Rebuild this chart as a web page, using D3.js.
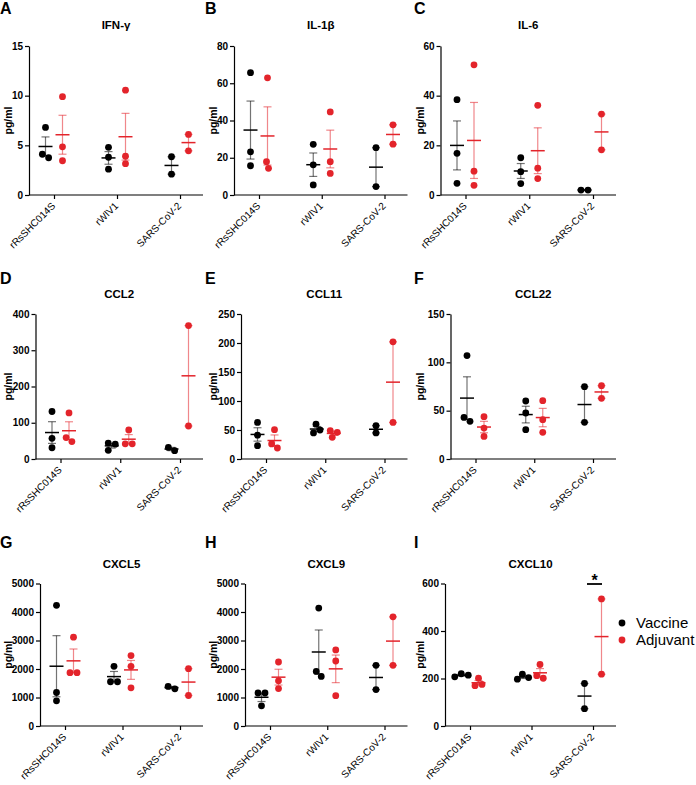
<!DOCTYPE html>
<html><head><meta charset="utf-8">
<script src="https://cdn.jsdelivr.net/npm/d3@7"></script>
<style>body{margin:0;background:#fff} svg{display:block;font-family:Arial,"Liberation Sans",sans-serif}</style>
</head><body><svg id="c" width="696" height="785"></svg>
<script>
// ---------- data ----------
const groups = ["rRsSHC014S", "rWIV1", "SARS-CoV-2"];
const seriesNames = ["Vaccine", "Adjuvant"];
const seriesColors = ["#000000", "#e3242b"];

const ifngVaccine  = [[6.8, 3.75, 4.1], [4.8, 3.8, 2.6], [3.85, 2.1]];
const ifngAdjuvant = [[9.9, 4.85, 3.45], [10.55, 3.9, 3.15], [6.1, 4.45]];
const il1bVaccine  = [[65.7, 23.2, 15.7], [27.2, 16.2, 5.4], [25.4, 4.5]];
const il1bAdjuvant = [[62.9, 17.9, 14.3], [44.6, 17.9, 11.6], [37.7, 27.3]];
const il6Vaccine   = [[38.4, 16.8, 4.7], [15, 9.4, 4.6], [2.0, 2.0]];
const il6Adjuvant  = [[52.4, 9.6, 3.9], [36.1, 10.8, 6.6], [32.6, 18.2]];
const ccl2Vaccine  = [[131, 57, 31], [44, 41, 24], [23, 32]];
const ccl2Adjuvant = [[127, 48, 59], [80, 42, 42], [368, 91]];
const ccl11Vaccine  = [[63, 41, 23], [60, 45, 50], [57.5, 45]];
const ccl11Adjuvant = [[50.6, 19, 26], [37.4, 49, 46], [202, 63]];
const ccl22Vaccine  = [[107, 43, 39], [60, 47.6, 30.3], [74.8, 37.9]];
const ccl22Adjuvant = [[43.8, 32, 23.4], [60.3, 40.7, 27.6], [75.9, 62.8]];
const cxcl5Vaccine  = [[4235, 1176, 882], [2094, 1553, 1553], [1306, 1388]];
const cxcl5Adjuvant = [[3118, 1870, 1870], [2470, 2094, 1341], [2012, 1071]];
const cxcl9Vaccine  = [[1158, 1158, 709], [4137, 1738, 1915], [2128, 1277]];
const cxcl9Adjuvant = [[2245, 1584, 1312], [2671, 2281, 1064], [3830, 2128]];
const cxcl10Vaccine  = [[207, 220, 214], [197, 218, 204], [179, 73]];
const cxcl10Adjuvant = [[201, 170, 175], [259, 201, 212], [535, 218]];

const ifngTicks = [0, 5, 10, 15];
const il1bTicks = [0, 20, 40, 60, 80];
const il6Ticks = [0, 20, 40, 60];
const ccl2Ticks = [0, 100, 200, 300, 400];
const ccl11Ticks = [0, 50, 100, 150, 200, 250];
const ccl22Ticks = [0, 50, 100, 150];
const cxcl5Ticks = [0, 1000, 2000, 3000, 4000, 5000];
const cxcl9Ticks = [0, 1000, 2000, 3000, 4000, 5000];
const cxcl10Ticks = [0, 200, 400, 600];

const yLabel = "pg/ml";

const panels = [
  {letter: "A", title: "IFN-γ", series: [ifngVaccine, ifngAdjuvant], ticks: ifngTicks, row: 0, col: 0, ax: 29},
  {letter: "B", title: "IL-1β", series: [il1bVaccine, il1bAdjuvant], ticks: il1bTicks, row: 0, col: 1, ax: 234},
  {letter: "C", title: "IL-6", series: [il6Vaccine, il6Adjuvant], ticks: il6Ticks, row: 0, col: 2, ax: 440.5},
  {letter: "D", title: "CCL2", series: [ccl2Vaccine, ccl2Adjuvant], ticks: ccl2Ticks, row: 1, col: 0, ax: 35.5},
  {letter: "E", title: "CCL11", series: [ccl11Vaccine, ccl11Adjuvant], ticks: ccl11Ticks, row: 1, col: 1, ax: 241},
  {letter: "F", title: "CCL22", series: [ccl22Vaccine, ccl22Adjuvant], ticks: ccl22Ticks, row: 1, col: 2, ax: 450.5},
  {letter: "G", title: "CXCL5", series: [cxcl5Vaccine, cxcl5Adjuvant], ticks: cxcl5Ticks, row: 2, col: 0, ax: 40},
  {letter: "H", title: "CXCL9", series: [cxcl9Vaccine, cxcl9Adjuvant], ticks: cxcl9Ticks, row: 2, col: 1, ax: 245},
  {letter: "I", title: "CXCL10", series: [cxcl10Vaccine, cxcl10Adjuvant], ticks: cxcl10Ticks, row: 2, col: 2, ax: 445, sig: {group: "SARS-CoV-2", label: "*"}}
];

// ---------- layout ----------
const colEnd = [203, 407.5, 616];
const colLetterX = [0, 205, 414];
const colYLabelX = [8, 213, 420.5];
const rowY = [[195, 46], [459, 314], [726, 583.5]];
const rowLetterY = [14, 284, 548];
const rowTitleY = [28.5, 298, 568];
const seriesOffset = [-8.5, 8.5];
const R = 3.4;

const svg = d3.select("#c");

function swarm(vals, y, d) {
  const pts = vals.map((v, i) => ({v, i, py: y(v), dx: 0}));
  const order = pts.slice().sort((a, b) => a.py - b.py);
  const placed = [];
  for (const p of order) {
    let best = 0;
    const ok = x => placed.every(q => Math.hypot(q.dx - x, q.py - p.py) >= d - 0.01);
    if (!ok(0)) {
      for (let s = 0.25; s < 40; s += 0.25) {
        if (ok(s)) { best = s; break; }
        if (ok(-s)) { best = -s; break; }
      }
    }
    p.dx = best;
    placed.push(p);
  }
  let clusters = [], cur = [];
  order.forEach((p, k) => {
    if (k > 0 && p.py - order[k - 1].py >= d) { clusters.push(cur); cur = []; }
    cur.push(p);
  });
  if (cur.length) clusters.push(cur);
  clusters.forEach(c => {
    const mn = d3.min(c, p => p.dx), mx = d3.max(c, p => p.dx);
    const mid = (mn + mx) / 2;
    c.forEach(p => p.dx -= mid);
  });
  return pts;
}

panels.forEach(p => {
  const x0 = p.ax, x1 = colEnd[p.col];
  const [yb, yt] = rowY[p.row];
  const ymax = d3.max(p.ticks);
  const y = d3.scaleLinear().domain([0, ymax]).range([yb, yt]);
  const x = d3.scalePoint().domain(groups).range([x0 + 25, x1 - 23]);
  const g = svg.append("g");

  g.append("text").attr("x", colLetterX[p.col]).attr("y", rowLetterY[p.row])
    .attr("font-size", 16).attr("font-weight", "bold").text(p.letter);
  g.append("text").attr("x", (x0 + x1) / 2).attr("y", rowTitleY[p.row])
    .attr("text-anchor", "middle").attr("font-size", 11.5).attr("font-weight", "bold").text(p.title);
  g.append("text").attr("transform", `translate(${colYLabelX[p.col]},${(yb + yt) / 2}) rotate(-90)`)
    .attr("text-anchor", "middle").attr("dy", "0.35em").attr("font-size", 10.5).attr("font-weight", "bold").text(yLabel);

  const ya = g.append("g").attr("transform", `translate(${x0},0)`)
    .call(d3.axisLeft(y).tickValues(p.ticks).tickSize(4).tickSizeOuter(0).tickPadding(2).tickFormat(d3.format("d")));
  ya.selectAll("path,line").attr("stroke", "#000").attr("stroke-width", 1.2);
  ya.selectAll("text").attr("font-size", 10).attr("font-weight", "bold").attr("fill", "#000")
    .style("font-family", "Arial, 'Liberation Sans', sans-serif");

  g.append("line").attr("x1", x0).attr("x2", x1).attr("y1", yb).attr("y2", yb)
    .attr("stroke", "#000").attr("stroke-width", 1.2);
  const xa = g.append("g").attr("transform", `translate(0,${yb})`)
    .call(d3.axisBottom(x).tickSize(4).tickSizeOuter(0));
  xa.select(".domain").remove();
  xa.selectAll("line").attr("stroke", "#000").attr("stroke-width", 1.2);
  xa.selectAll("text").attr("x", 0).attr("y", 0).attr("dy", "0.35em")
    .attr("transform", "translate(-1,9) rotate(-45)")
    .attr("text-anchor", "end").attr("font-size", 10).attr("fill", "#000")
    .style("font-family", "Arial, 'Liberation Sans', sans-serif");

  p.series.forEach((ser, si) => {
    const color = seriesColors[si];
    ser.forEach((vals, gi) => {
      const cx = x(groups[gi]) + seriesOffset[si];
      const pts = swarm(vals, y, 7);
      g.selectAll(null).data(pts).enter().append("circle")
        .attr("cx", d => cx + d.dx).attr("cy", d => d.py).attr("r", R).attr("fill", color);
      const m = d3.mean(vals);
      const sem = d3.deviation(vals) / Math.sqrt(vals.length);
      const eg = g.append("g").attr("stroke", color);
      eg.append("line").attr("x1", cx).attr("x2", cx).attr("y1", y(m - sem)).attr("y2", y(m + sem))
        .attr("stroke-width", 1.2).attr("stroke-opacity", 0.55);
      [m - sem, m + sem].forEach(v => eg.append("line").attr("x1", cx - 4).attr("x2", cx + 4)
        .attr("y1", y(v)).attr("y2", y(v)).attr("stroke-width", 1.2).attr("stroke-opacity", 0.55));
      eg.append("line").attr("x1", cx - 7).attr("x2", cx + 7).attr("y1", y(m)).attr("y2", y(m))
        .attr("stroke-width", 1.5);
    });
  });

  if (p.sig) {
    const tx = x(p.sig.group);
    g.append("line").attr("x1", tx - 6).attr("x2", tx + 9).attr("y1", yt + 0.5).attr("y2", yt + 0.5)
      .attr("stroke", "#000").attr("stroke-width", 1.8);
    g.append("text").attr("x", tx + 1.5).attr("y", yt + 2).attr("text-anchor", "middle")
      .attr("font-size", 16).attr("font-weight", "bold").text(p.sig.label);
  }
});

const lg = svg.append("g");
seriesNames.forEach((s, i) => {
  const yy = 623 + i * 17;
  lg.append("circle").attr("cx", 622).attr("cy", yy).attr("r", R).attr("fill", seriesColors[i]);
  lg.append("text").attr("x", 636).attr("y", yy).attr("dy", "0.35em").attr("font-size", 15).text(s);
});
</script></body></html>
